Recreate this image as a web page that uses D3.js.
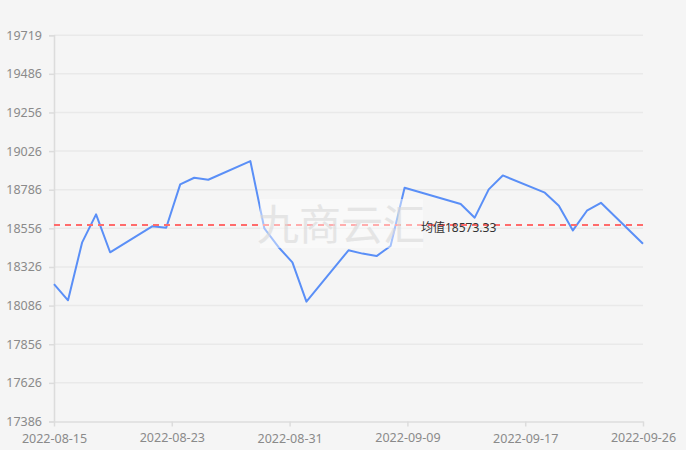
<!DOCTYPE html>
<html>
<head>
<meta charset="utf-8">
<script src="https://cdn.jsdelivr.net/npm/d3@7"></script>
<style>
  html, body { margin: 0; padding: 0; background: #f5f5f5; }
  svg { display: block; }
  text { font-family: "Noto Sans", "Noto Sans CJK SC", sans-serif; }
</style>
</head>
<body>
<svg id="chart" width="686" height="450"></svg>
<script>
// ---- data ----
const dates = [
  "2022-08-15","2022-08-16","2022-08-17","2022-08-18","2022-08-19",
  "2022-08-22","2022-08-23","2022-08-24","2022-08-25","2022-08-26",
  "2022-08-29","2022-08-30","2022-08-31","2022-09-01","2022-09-02",
  "2022-09-05","2022-09-06","2022-09-07","2022-09-08","2022-09-09",
  "2022-09-13","2022-09-14","2022-09-15","2022-09-16",
  "2022-09-19","2022-09-20","2022-09-21","2022-09-22","2022-09-23",
  "2022-09-26"
];
const values = [
  18216, 18118, 18466, 18637, 18408,
  18565, 18556, 18818, 18858, 18846,
  18959, 18552, 18440, 18347, 18110,
  18420, 18400, 18385, 18446, 18798,
  18700, 18617, 18788, 18872,
  18768, 18689, 18540, 18659, 18707,
  18460
];
const averageValue = 18573.33;
const averageLabel = "均值18573.33";
const yMin = 17386, yMax = 19719;
const yTickLabels = ["17386","17626","17856","18086","18326","18556","18786","19026","19256","19486","19719"];
const xStart = "2022-08-15", xEnd = "2022-09-26";
const xTickLabels = ["2022-08-15","2022-08-23","2022-08-31","2022-09-09","2022-09-17","2022-09-26"];
const watermark = "九商云汇";

(function () {
  // ---- layout ----
  const svg = d3.select("#chart");
  const mLeft = 54, mRight = 643, mTop = 35.2, mBottom = 421.5;
  const parse = d3.timeParse("%Y-%m-%d");
  const t0 = parse(xStart), t1 = parse(xEnd);

  const x = d3.scaleTime().domain([t0, t1]).range([mLeft, mRight]);
  const y = d3.scaleLinear().domain([yMin, yMax]).range([mBottom, mTop]);

  const yTickVals = yTickLabels.map((_, i) => yMin + i * (yMax - yMin) / (yTickLabels.length - 1));
  const xTickVals = xTickLabels.map((_, i) => new Date(+t0 + i * (t1 - t0) / (xTickLabels.length - 1)));

  // grid lines
  svg.append("g")
    .selectAll("line")
    .data(yTickVals.slice(1))
    .join("line")
    .attr("x1", mLeft).attr("x2", mRight)
    .attr("y1", d => y(d)).attr("y2", d => y(d))
    .attr("stroke", "#e9e9e9")
    .attr("stroke-width", 1.5);

  // y axis
  const yAxis = svg.append("g")
    .attr("transform", `translate(${mLeft},0)`)
    .call(d3.axisLeft(y).tickValues(yTickVals).tickFormat((d, i) => yTickLabels[i]).tickSize(5).tickPadding(7));
  yAxis.select(".domain").attr("stroke", "#dcdcdc").attr("stroke-width", 1.5);
  yAxis.selectAll(".tick line").attr("stroke", "#dcdcdc").attr("stroke-width", 1.5);
  yAxis.selectAll("text").attr("fill", "#8a8a8a").attr("font-size", 12.5);

  // x axis
  const xAxis = svg.append("g")
    .attr("transform", `translate(0,${mBottom})`)
    .call(d3.axisBottom(x).tickValues(xTickVals).tickFormat((d, i) => xTickLabels[i]).tickSizeInner(5).tickSizeOuter(0).tickPadding(8));
  xAxis.select(".domain").attr("stroke", "#dcdcdc").attr("stroke-width", 1.5);
  xAxis.selectAll(".tick line").attr("stroke", "#dcdcdc").attr("stroke-width", 1.5);
  xAxis.selectAll("text")
    .attr("fill", "#8a8a8a").attr("font-size", 12.5)
    .attr("dy", (d, i) => i % 2 === 0 ? "0.71em" : "0.59em");

  // data line
  const pts = dates.map((d, i) => ({ date: parse(d), value: values[i] }));
  svg.append("path")
    .datum(pts)
    .attr("fill", "none")
    .attr("stroke", "#5a8ff7")
    .attr("stroke-width", 2)
    .attr("stroke-linejoin", "round")
    .attr("d", d3.line().x(d => x(d.date)).y(d => y(d.value)));

  // average line
  svg.append("line")
    .attr("x1", mLeft).attr("x2", mRight)
    .attr("y1", y(averageValue)).attr("y2", y(averageValue))
    .attr("stroke", "#ff6b6b")
    .attr("stroke-width", 2)
    .attr("stroke-dasharray", "6,5");

  // watermark
  svg.append("rect")
    .attr("x", 260).attr("y", 199).attr("width", 163).attr("height", 49)
    .attr("fill", "#ffffff").attr("opacity", 0.45);
  svg.append("text")
    .attr("x", 341).attr("y", 240)
    .attr("text-anchor", "middle")
    .attr("font-size", 42)
    .attr("font-family", "'Noto Sans CJK SC', sans-serif")
    .attr("fill", "#d8d8d8")
    .attr("opacity", 0.6)
    .text(watermark);

  // average label
  svg.append("text")
    .attr("x", 421).attr("y", y(averageValue) + 7)
    .attr("font-size", 12)
    .attr("fill", "#333")
    .text(averageLabel);
})();
</script>
</body>
</html>
